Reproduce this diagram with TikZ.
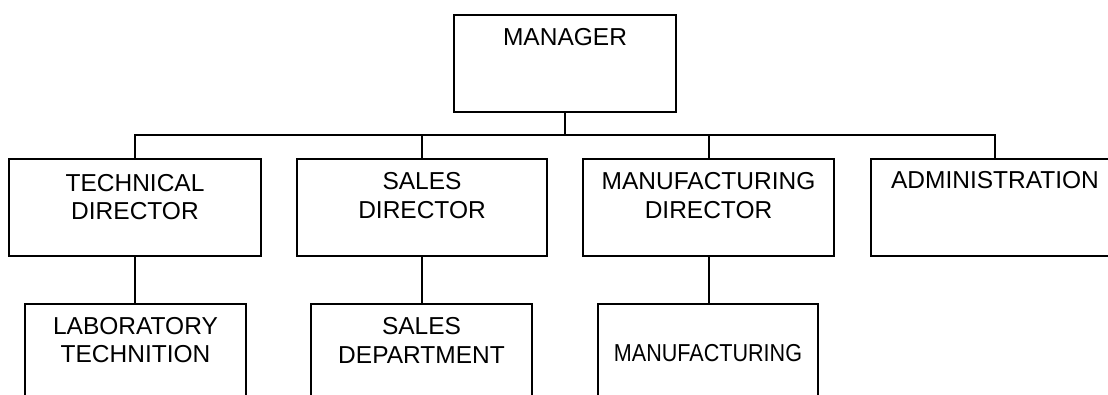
\documentclass[tikz,border=0pt]{standalone}
\usepackage{fontspec}
\setmainfont{Liberation Sans}
\usetikzlibrary{positioning}
\tikzset{
  unit/.style={draw, line width=2bp, rectangle, inner sep=0pt, minimum height=97bp},
  lbl/.style={inner sep=0pt, align=center, font=\fontsize{24.5bp}{28.3bp}\selectfont},
  link/.style={line width=2bp},
}
\begin{document}
\begin{tikzpicture}[x=1bp, y=-1bp]
  \useasboundingbox (0,0) rectangle (1108,394);
  \clip (0,0) rectangle (1108,394);
  % top of the chart
  \node[unit, minimum width=222bp] (mgr) at (565,63.5) {};
  % directors row
  \node[unit, minimum width=252bp] (tech) at (135,207.5) {};
  \node[unit, minimum width=250bp] (sales) at (422,207.5) {};
  \node[unit, minimum width=251bp] (manu) at (708.5,207.5) {};
  \node[unit, minimum width=248bp] (admin) at (995,207.5) {};
  % departments, cut off at the bottom edge
  \node[unit, minimum width=221bp, minimum height=120bp] (lab) at (135.5,364) {};
  \node[unit, minimum width=221bp, minimum height=120bp] (dept) at (421.5,364) {};
  \node[unit, minimum width=220bp, minimum height=120bp] (manuf) at (708,364) {};

  % labels sit near the top of each box
  \node[lbl, below=14.5bp of mgr.north] (mgrtxt) {MANAGER};
  \node[lbl, below=16bp of tech.north] (techtxt) {TECHNICAL\\DIRECTOR};
  \node[lbl, below=14.5bp of sales.north] (salestxt) {SALES\\DIRECTOR};
  \node[lbl, below=14.5bp of manu.north] (manutxt) {MANUFACTURING\\DIRECTOR};
  \node[lbl, below=13.5bp of admin.north] (admintxt) {ADMINISTRATION};
  \node[lbl, below=14bp of lab.north] (labtxt) {LABORATORY\\TECHNITION};
  \node[lbl, below=14.5bp of dept.north] (depttxt) {SALES\\DEPARTMENT};
  \node[lbl, below=41bp of manuf.north] (manuftxt) {\scalebox{0.88}[1]{MANUFACTURING}};

  % bus line under the manager
  \coordinate (bus) at (0,135);
  \draw[link] (mgr.south) -- (mgr.south |- bus);
  \draw[link] (tech.north) -- (tech.north |- bus) -- (admin.north |- bus) -- (admin.north);
  \foreach \d in {sales, manu}
    \draw[link] (\d.north) -- (\d.north |- bus);
  \foreach \u/\l in {tech/lab, sales/dept, manu/manuf}
    \draw[link] (\u.south) -- (\u.south |- \l.north);
\end{tikzpicture}
\end{document}
